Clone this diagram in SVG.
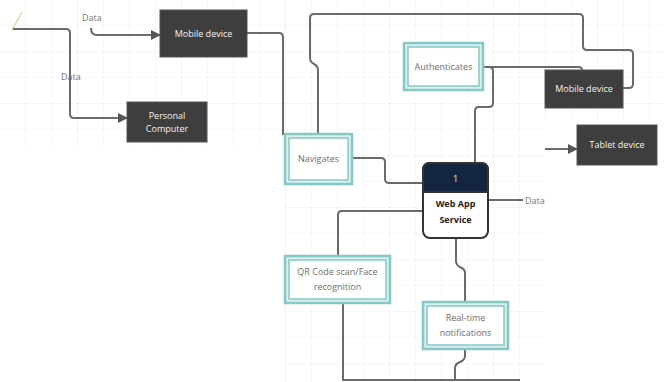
<svg xmlns="http://www.w3.org/2000/svg" width="664" height="382" viewBox="0 0 664 382">
<defs>
<style>
.ln{fill:none;stroke:#6a6a6a;stroke-width:2;stroke-linejoin:round}
.dark rect{fill:#3e3e3e;stroke:#555;stroke-width:1}
.dark text{fill:#f2f2f2;font-family:"Open Sans","Liberation Sans",sans-serif;font-size:9px;text-anchor:middle}
.tl .o{fill:#d9efef;stroke:#86c8c8;stroke-width:2.5}
.tl .i{fill:#ffffff;stroke:#86c8c8;stroke-width:1.5}
.tl text{fill:#6e6e6e;font-family:"Open Sans","Liberation Sans",sans-serif;font-size:9px;text-anchor:middle}
.lbl{fill:#777;font-family:"Open Sans","Liberation Sans",sans-serif;font-size:9px}
.grid{stroke:#eeeeee;stroke-width:1}
</style>
<marker id="ah" viewBox="0 0 10 10" refX="9" refY="5" markerWidth="5" markerHeight="5" orient="auto">
<path d="M0,0L10,5L0,10z" fill="#555"/>
</marker>
<pattern id="gp" width="26" height="26" patternUnits="userSpaceOnUse">
<path d="M26 0V26M0 26H26" class="grid" fill="none"/>
</pattern>
</defs>
<rect width="664" height="382" fill="#ffffff"/>
<rect x="0" y="0" width="290" height="145" fill="url(#gp)"/>
<rect x="283" y="0" width="260" height="382" fill="url(#gp)"/>
<rect x="543" y="0" width="121" height="120" fill="url(#gp)"/>
<line x1="12" y1="30" x2="22" y2="12" stroke="#dcdca0" stroke-width="1.5"/>

<g id="connectors">
<path class="ln" d="M13,29H66Q70,29 70,33V114Q70,118 74,118H127" marker-end="url(#ah)"/>
<path class="ln" d="M91,28Q91,35 97,35H160" marker-end="url(#ah)"/>
<path class="ln" d="M247,33H279Q283,33 283,37V135"/>
<path class="ln" d="M318,135V70Q318,66 314,64Q310,62 310,58V18Q310,14 314,14H579Q583,14 583,18V46Q583,50 587,50H629Q633,50 633,54V84Q633,88 629,88H623"/>
<path class="ln" d="M483,67H578Q582,67 582,70"/>
<path class="ln" d="M483,67H489Q493,67 493,71V103Q493,107 489,107H479Q475,107 475,111V163"/>
<path class="ln" d="M352,158H381Q385,158 385,162V179Q385,183 389,183H423"/>
<path class="ln" d="M545,149H577" marker-end="url(#ah)"/>
<path class="ln" d="M488,200H523"/>
<path class="ln" d="M423,211H342Q338,211 338,215V256"/>
<path class="ln" d="M456,238V261Q456,265 460,267Q465,269 465,273V302"/>
<path class="ln" d="M465,349V356Q465,360 460,362Q455,364 455,368V380"/>
<path class="ln" d="M343,303V380H520"/>
</g>

<g id="n-mobile1" class="dark">
<rect x="160" y="10" width="87" height="47"/>
<text x="203.5" y="36.5">Mobile device</text>
</g>
<g id="n-pc" class="dark">
<rect x="127" y="102" width="80" height="40"/>
<text x="167" y="118.5">Personal</text>
<text x="167" y="132">Computer</text>
</g>
<g id="n-mobile2" class="dark">
<rect x="545" y="70" width="78" height="38"/>
<text x="584" y="92">Mobile device</text>
</g>
<g id="n-tablet" class="dark">
<rect x="577" y="125" width="80" height="40"/>
<text x="617" y="148">Tablet device</text>
</g>

<g id="n-auth" class="tl">
<rect class="o" x="404" y="43" width="79" height="47"/>
<rect class="i" x="408" y="47" width="71" height="39"/>
<text x="443.5" y="70">Authenticates</text>
</g>
<g id="n-nav" class="tl">
<rect class="o" x="285" y="134" width="67" height="50"/>
<rect class="i" x="289" y="138" width="59" height="42"/>
<text x="318.5" y="162">Navigates</text>
</g>
<g id="n-qr" class="tl">
<rect class="o" x="285" y="256" width="105" height="47"/>
<rect class="i" x="289" y="260" width="97" height="39"/>
<text x="337.5" y="275">QR Code scan/Face</text>
<text x="337.5" y="290">recognition</text>
</g>
<g id="n-rt" class="tl">
<rect class="o" x="423" y="302" width="85" height="47"/>
<rect class="i" x="427" y="306" width="77" height="39"/>
<text x="465.5" y="321">Real-time</text>
<text x="465.5" y="336">notifications</text>
</g>

<g id="n-webapp">
<rect x="423" y="163" width="65" height="75" rx="7" fill="#ffffff" stroke="#333" stroke-width="2"/>
<path d="M423,192V170Q423,163 430,163H481Q488,163 488,170V192Z" fill="#14263f" stroke="#333" stroke-width="2"/>
<text x="455.5" y="182" fill="#e8e8e8" font-family="'Open Sans','Liberation Sans',sans-serif" font-size="9" text-anchor="middle">1</text>
<text x="455.5" y="207" fill="#222" font-family="'Open Sans','Liberation Sans',sans-serif" font-size="9" font-weight="bold" text-anchor="middle">Web App</text>
<text x="455.5" y="223" fill="#222" font-family="'Open Sans','Liberation Sans',sans-serif" font-size="9" font-weight="bold" text-anchor="middle">Service</text>
</g>

<text class="lbl" x="82" y="21">Data</text>
<text class="lbl" x="61" y="80">Data</text>
<text class="lbl" x="525" y="204">Data</text>
</svg>
